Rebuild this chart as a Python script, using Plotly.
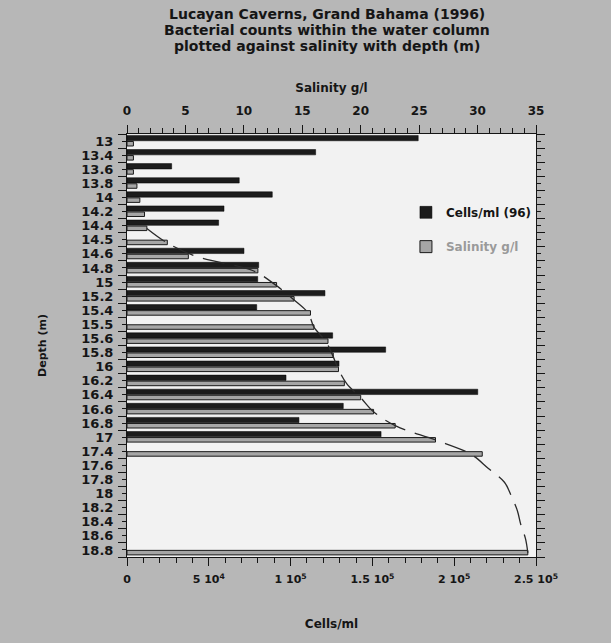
import plotly.graph_objects as go

# ---- data ----
depth_labels = ["13", "13.4", "13.6", "13.8", "14", "14.2", "14.4", "14.5", "14.6", "14.8",
                "15", "15.2", "15.4", "15.5", "15.6", "15.8", "16", "16.2", "16.4", "16.6",
                "16.8", "17", "17.4", "17.6", "17.8", "18", "18.2", "18.4", "18.6", "18.8"]

cells_per_ml = [178000, 115300, 27300, 68600, 88800, 59300, 56000, None, 71500, 80500,
                79900, 121000, 79300, None, 125700, 158100, 129600, 97200, 214400, 132200,
                105100, 155300, None, None, None, None, None, None, None, None]

salinity_gl = [0.55, 0.55, 0.55, 0.85, 1.1, 1.5, 1.7, 3.45, 5.25, 11.2,
               12.8, 14.3, 15.7, 16.0, 17.2, 17.65, 18.1, 18.6, 20.0, 21.1,
               22.95, 26.4, 30.4, None, None, None, None, None, None, 34.3]

# salinity profile line (dashed curve)
profile_gl = [None, None, None, None, None, None, 1.7, 3.4, 6.0, 10.8,
              12.7, 14.2, 15.5, 16.0, 17.0, 17.6, 18.1, 18.8, 20.0, 21.1,
              23.0, 26.4, 29.4, 30.9, 32.3, 32.9, 33.4, 33.7, 34.1, 34.3]

cell_ticks = [0, 50000, 100000, 150000, 200000, 250000]
cell_tick_text = ["0", "5 10<sup>4</sup>", "1 10<sup>5</sup>", "1.5 10<sup>5</sup>",
                  "2 10<sup>5</sup>", "2.5 10<sup>5</sup>"]
sal_ticks = [0, 5, 10, 15, 20, 25, 30, 35]

title_lines = ["Lucayan Caverns, Grand Bahama (1996)",
               "Bacterial counts within the water column",
               "plotted against salinity with depth (m)"]

idx = list(range(len(depth_labels)))
n = len(depth_labels)

FONT = "DejaVu Sans, Liberation Sans, Arial, sans-serif"
INK = "#151515"
PLOT_H = 423

fig = go.Figure()

fig.add_trace(go.Bar(
    y=idx, x=cells_per_ml, orientation="h", xaxis="x", yaxis="y",
    name="<b>Cells/ml (96)</b>", legend="legend",
    marker=dict(color="#1c1c1c", line=dict(color="#000000", width=0.5)),
    offset=-0.40, width=0.38,
))
fig.add_trace(go.Bar(
    y=idx, x=salinity_gl, orientation="h", xaxis="x2", yaxis="y",
    name="<span style='color:#9a9a9a'><b>Salinity g/l</b></span>", legend="legend2",
    marker=dict(color="#a6a6a6", line=dict(color="#1a1a1a", width=1)),
    offset=0.03, width=0.32,
))
fig.add_trace(go.Scatter(
    y=[i + 0.2 for i in idx], x=profile_gl, xaxis="x2", yaxis="y",
    mode="lines", line=dict(color="#2a2a2a", width=1.3, dash="22px,10px", shape="spline"),
    connectgaps=True, showlegend=False, hoverinfo="skip",
))

for txt, dy in zip(title_lines, [120, 104, 88]):
    fig.add_annotation(
        text=f"<b>{txt}</b>", xref="paper", yref="paper", x=0.489, y=1 + dy / PLOT_H,
        xanchor="center", yanchor="middle", showarrow=False,
        font=dict(size=14, color=INK, family=FONT),
    )

legend_common = dict(xanchor="left", yanchor="top", bgcolor="rgba(0,0,0,0)",
                     font=dict(size=12, color=INK, family=FONT), itemwidth=30)

fig.update_layout(
    width=611, height=643,
    margin=dict(l=127, r=75, t=134, b=86),
    paper_bgcolor="#b7b7b7",
    plot_bgcolor="#f2f2f2",
    font=dict(family=FONT, color=INK, size=12),
    barmode="overlay",
    showlegend=True,
    legend=dict(x=0.682, y=0.849, **legend_common),
    legend2=dict(x=0.682, y=0.768, **legend_common),
    xaxis=dict(
        range=[0, 250000], side="bottom",
        tickmode="array", tickvals=cell_ticks, ticktext=cell_tick_text,
        ticks="outside", ticklen=8, tickwidth=1, tickcolor=INK,
        minor=dict(dtick=10000, ticks="outside", ticklen=5, tickcolor=INK),
        showline=True, linecolor=INK, linewidth=1, showgrid=False, zeroline=False,
        tickfont=dict(size=11, weight="bold"), ticklabelstandoff=4,
        title=dict(text="<b>Cells/ml</b>", font=dict(size=12), standoff=34),
    ),
    xaxis2=dict(
        range=[0, 35], side="top", overlaying="x", anchor="y",
        tickmode="array", tickvals=sal_ticks,
        ticks="outside", ticklen=8, tickwidth=1, tickcolor=INK,
        minor=dict(dtick=1, ticks="outside", ticklen=5, tickcolor=INK),
        showline=True, linecolor=INK, linewidth=1, showgrid=False, zeroline=False,
        tickfont=dict(size=12, weight="bold"), ticklabelstandoff=5,
        title=dict(text="<b>Salinity g/l</b>", font=dict(size=12), standoff=9),
    ),
    yaxis=dict(
        range=[n - 0.5, -0.5],
        tickmode="array", tickvals=idx, ticktext=depth_labels,
        ticks="outside", ticklen=4, tickcolor=INK,
        minor=dict(tickmode="array", tickvals=[i - 0.5 for i in range(n + 1)],
                   ticks="outside", ticklen=8, tickcolor=INK),
        showline=True, linecolor=INK, linewidth=1, mirror="ticks",
        showgrid=False, zeroline=False,
        tickfont=dict(size=13, weight="bold"),
        ticklabelstandoff=6,
        title=dict(text="<b>Depth (m)</b>", font=dict(size=11), standoff=32),
    ),
)

fig.write_html(
    "out.html",
    config={"displayModeBar": False},
    post_script="document.body.style.margin='0';document.body.style.background='#b7b7b7';",
)
